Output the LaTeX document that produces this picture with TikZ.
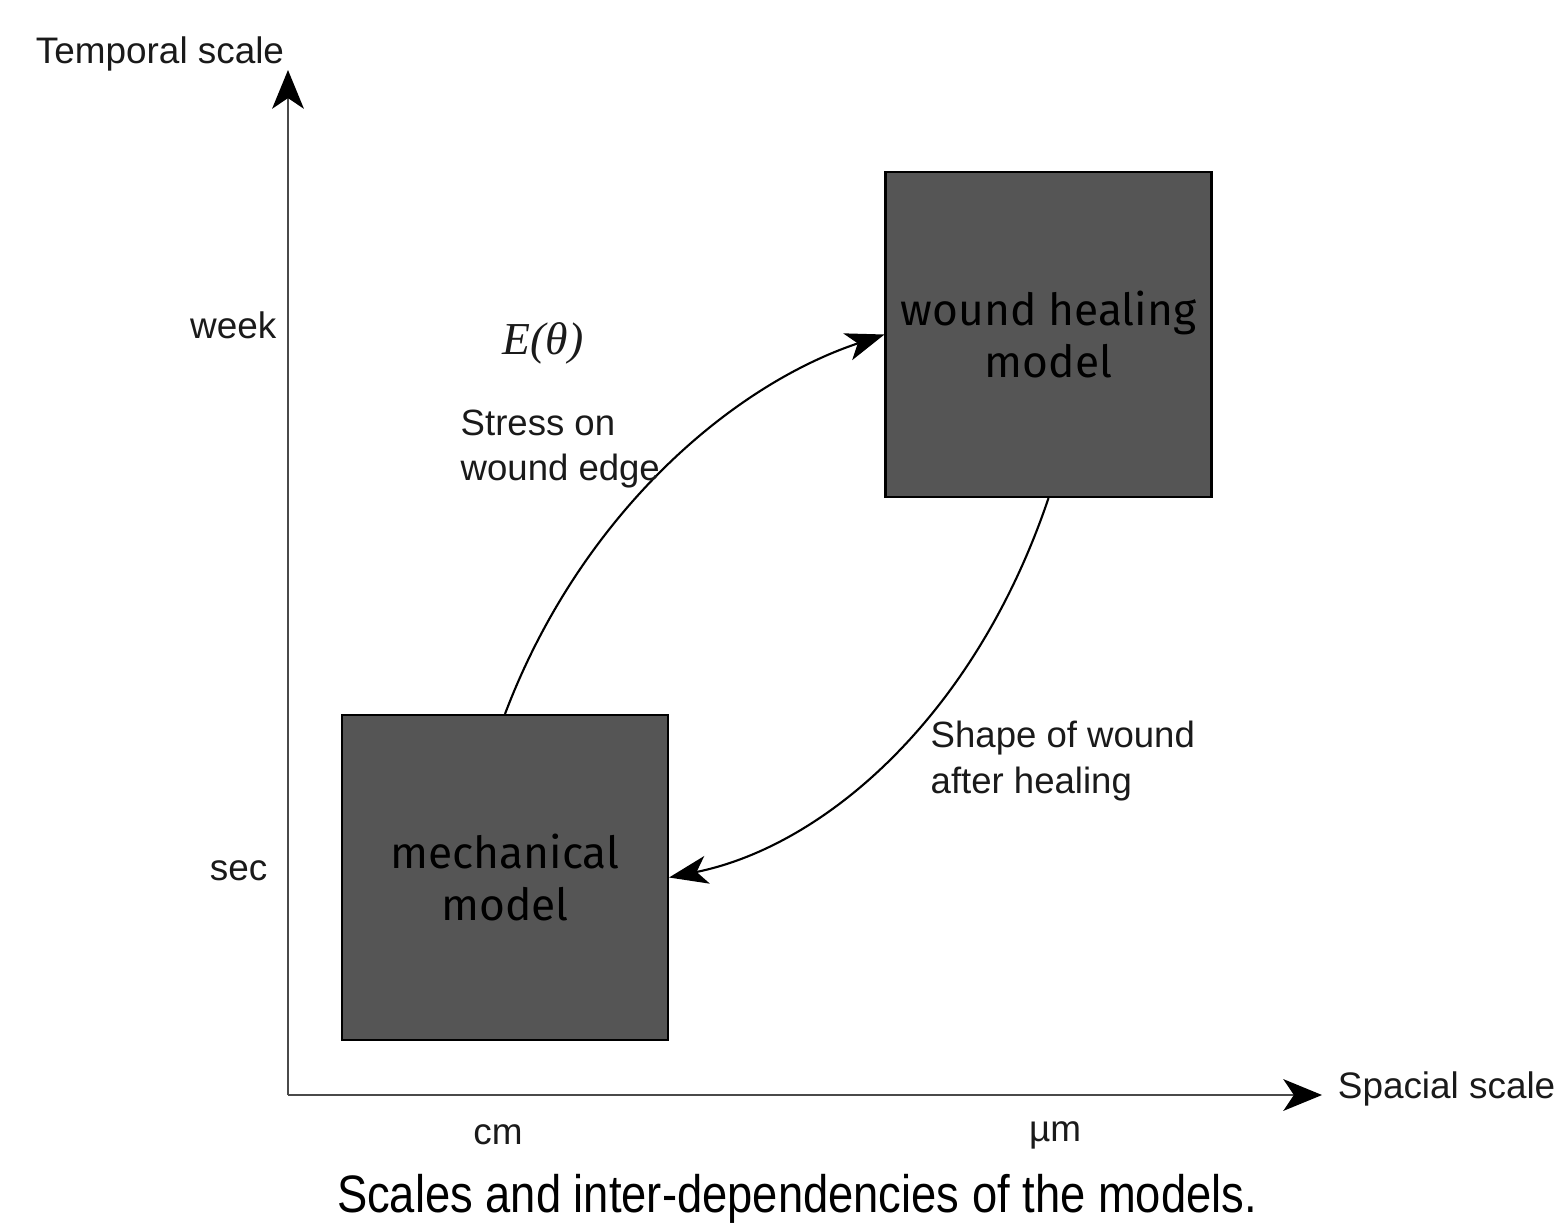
\documentclass[tikz,border=0pt]{standalone}
\usepackage{fontspec}
\setmainfont{Liberation Sans}
\setsansfont{Liberation Sans}
\newfontfamily\boxfont{Fira Sans}
\newfontfamily\mathserif{Liberation Serif}
\usetikzlibrary{arrows.meta, positioning}
\definecolor{boxgray}{HTML}{555555}
\definecolor{axisgray}{HTML}{4A4A4A}
\definecolor{textgray}{HTML}{1A1A1A}

\begin{document}
\begin{tikzpicture}[font=\sffamily,
  model/.style={draw=black, line width=0.6pt, fill=boxgray, minimum width=3.26cm,
    minimum height=3.25cm, inner sep=0pt, align=center, text=black,
    font=\boxfont\fontsize{12.6}{14.8}\selectfont},
  axislabel/.style={text=textgray, inner sep=0pt, font=\sffamily\fontsize{10.5}{12}\selectfont},
  flowlabel/.style={text=textgray, align=left, inner sep=0pt,
    font=\sffamily\fontsize{10.4}{13}\selectfont},
  flow/.style={line width=0.6pt, -{Stealth[length=11pt, width=8pt, inset=3pt]}},
  axis/.style={axisgray, line width=0.8pt, -{Stealth[length=11pt, width=9pt, inset=3pt, black]}}]

% --- Canvas ---
\useasboundingbox (0,0) rectangle (15.57,12.26);

% --- Axes ---
\coordinate (origin) at (2.88,1.31);
\coordinate (ytop) at (2.88,11.56);
\coordinate (xend) at (13.22,1.31);
\draw[axis] (origin) -- (ytop);
\draw[axis] (origin) -- (xend);

\node[axislabel] (tlabel) at (1.60,11.72) {Temporal scale};
\node[axislabel, anchor=east] (slabel) at (15.56,1.37) {Spacial scale};
\node[axislabel, anchor=east] (week) at (2.77,9.01) {week};
\node[axislabel, anchor=east] (sec) at (2.68,3.55) {sec};
\node[axislabel] (cm) at (4.98,0.91) {cm};
\node[axislabel] (um) at (10.55,0.91) {µm};

% --- Models ---
\node[model] (mech) at (5.05,3.485) {mechanical\\model};
\node[model] (heal) at (10.485,8.915) {wound healing\\model};

% --- Couplings ---
\draw[flow] (mech.north) .. controls (5.8,7.1) and (7.3,8.4) .. (heal.west);
\draw[flow] (heal.south) .. controls (9.75,5.1) and (8.25,3.8) .. (mech.east);

\node[text=textgray, font=\mathserif\itshape\fontsize{13}{15}\selectfont] (etheta) at (5.43,8.83) {E(θ)};
\node[flowlabel, anchor=west] (stress) at (4.60,7.77) {Stress on\\wound edge};
\node[flowlabel, anchor=west] (shape) at (9.30,4.65) {Shape of wound\\after healing};

% --- Caption ---
\node[inner sep=0pt, anchor=south] (caption) at (7.97,0.02)
  {\scalebox{0.86}[1]{\fontsize{15}{18}\selectfont Scales and inter-dependencies of the models.}};

\end{tikzpicture}
\end{document}
